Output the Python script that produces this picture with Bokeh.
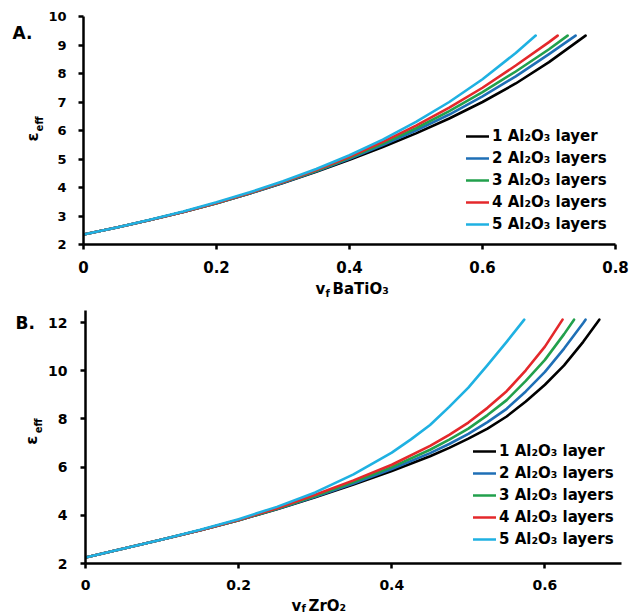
import math
from bokeh.plotting import figure
from bokeh.models import Range1d, FixedTicker, Legend, LegendItem
from bokeh.core.properties import value
from bokeh.layouts import column, row
from bokeh.embed import file_html
from bokeh.resources import INLINE

# ---------------- data ----------------
series_labels = ["1 Al\u2082O\u2083 layer", "2 Al\u2082O\u2083 layers", "3 Al\u2082O\u2083 layers",
                 "4 Al\u2082O\u2083 layers", "5 Al\u2082O\u2083 layers"]
series_colors = ["#000000", "#1f6fb6", "#22a04c", "#e4282b", "#1fb1e2"]

# Panel A: BaTiO3 (v_f grid shared, each curve ends at its own last point)
vf_A = [0.00, 0.05, 0.10, 0.15, 0.20, 0.25, 0.30, 0.35, 0.40, 0.45, 0.50, 0.55, 0.60, 0.65, 0.70]
A_1 = [2.35, 2.60, 2.86, 3.14, 3.45, 3.79, 4.16, 4.55, 4.97, 5.42, 5.90, 6.42, 7.00, 7.65, 8.40]
A_2 = [2.35, 2.60, 2.86, 3.14, 3.45, 3.79, 4.17, 4.57, 5.01, 5.49, 6.00, 6.56, 7.20, 7.90, 8.68]
A_3 = [2.35, 2.60, 2.86, 3.14, 3.45, 3.80, 4.18, 4.59, 5.04, 5.54, 6.08, 6.68, 7.35, 8.07, 8.85]
A_4 = [2.35, 2.60, 2.86, 3.14, 3.46, 3.81, 4.19, 4.61, 5.08, 5.60, 6.17, 6.80, 7.50, 8.28, 9.10]
A_5 = [2.35, 2.60, 2.87, 3.16, 3.48, 3.83, 4.22, 4.65, 5.13, 5.68, 6.30, 7.00, 7.80, 8.72]
A_end_vf = [0.755, 0.740, 0.728, 0.713, 0.680]
A_end_eps = [9.33, 9.33, 9.33, 9.33, 9.33]
A_xticks = [0, 0.2, 0.4, 0.6, 0.8]
A_xtick_labels = ["0", "0.2", "0.4", "0.6", "0.8"]
A_yticks = [2, 3, 4, 5, 6, 7, 8, 9, 10]

# Panel B: ZrO2 (v_f grid finer at high loading)
vf_B = [0.00, 0.05, 0.10, 0.15, 0.20, 0.25, 0.30, 0.35, 0.40, 0.45, 0.475, 0.50, 0.525,
        0.55, 0.575, 0.60, 0.625, 0.65]
vf_B5 = [0.00, 0.05, 0.10, 0.15, 0.20, 0.25, 0.30, 0.35, 0.40, 0.425, 0.45, 0.475, 0.50,
         0.525, 0.55]
B_1 = [2.25, 2.62, 3.00, 3.38, 3.80, 4.25, 4.75, 5.28, 5.84, 6.45, 6.80, 7.18, 7.60,
       8.10, 8.72, 9.42, 10.22, 11.20]
B_2 = [2.25, 2.62, 3.00, 3.38, 3.80, 4.26, 4.77, 5.32, 5.92, 6.58, 6.96, 7.38, 7.87,
       8.42, 9.14, 9.95, 10.92, 11.98]
B_3 = [2.25, 2.62, 3.00, 3.38, 3.80, 4.27, 4.80, 5.38, 6.00, 6.72, 7.14, 7.60, 8.16,
       8.78, 9.58, 10.45, 11.52]
B_4 = [2.25, 2.62, 3.00, 3.38, 3.81, 4.29, 4.85, 5.45, 6.10, 6.88, 7.34, 7.85, 8.46,
       9.15, 10.02, 11.00]
B_5 = [2.25, 2.62, 3.00, 3.40, 3.84, 4.35, 4.95, 5.70, 6.60, 7.15, 7.75, 8.50, 9.30,
       10.23, 11.20]
B_end_vf = [0.671, 0.653, 0.638, 0.623, 0.573]
B_end_eps = [12.12, 12.12, 12.12, 12.12, 12.12]
B_xticks = [0, 0.2, 0.4, 0.6]
B_xtick_labels = ["0", "0.2", "0.4", "0.6"]
B_yticks = [2, 4, 6, 8, 10, 12]

FONT = "DejaVu Sans"
W = 630


def make_panel(width, height, borders, xr, yr, xticks, xlabels, yticks,
               grids, series, ends_x, ends_y, xsize, ysize, ystand, xstand,
               legend_loc):
    left, right, top, bottom = borders
    p = figure(width=width, height=height, output_backend="svg", toolbar_location=None,
               title_location=None,
               x_range=Range1d(*xr), y_range=Range1d(*yr),
               min_border_left=left, min_border_right=right,
               min_border_top=top, min_border_bottom=bottom)
    p.outline_line_color = None
    p.xgrid.visible = False
    p.ygrid.visible = False
    p.background_fill_color = "white"
    for ax in (p.xaxis, p.yaxis):
        ax.axis_line_width = 2.5
        ax.axis_line_color = "black"
        ax.major_tick_line_width = 2.5
        ax.major_tick_line_color = "black"
        ax.major_tick_out = 5
        ax.major_tick_in = 0
        ax.minor_tick_line_color = None
        ax.major_label_text_font = FONT
        ax.major_label_text_font_style = "bold"
        ax.major_label_text_color = "black"
    p.xaxis.ticker = FixedTicker(ticks=xticks)
    p.xaxis.major_label_overrides = dict(zip(xticks, xlabels))
    p.xaxis.major_label_text_font_size = f"{xsize}px"
    p.xaxis.major_label_standoff = xstand
    p.yaxis.ticker = FixedTicker(ticks=yticks)
    p.yaxis.major_label_text_font_size = f"{ysize}px"
    p.yaxis.major_label_standoff = ystand

    items = []
    for grid, vals, ex, ey, col, lab in zip(grids, series, ends_x, ends_y,
                                             series_colors, series_labels):
        xs = list(grid[:len(vals)]) + [ex]
        ys = list(vals) + [ey]
        r = p.line(xs, ys, line_color=col, line_width=2.6, line_join="round", line_cap="round")
        items.append(LegendItem(label=lab, renderers=[r]))
    leg = Legend(items=items, location=legend_loc, orientation="vertical",
                 border_line_color=None, background_fill_alpha=0, padding=0, margin=0,
                 spacing=2, glyph_width=23, glyph_height=20, label_height=20,
                 label_standoff=3, label_text_font=FONT, label_text_font_style="bold",
                 label_text_font_size="15px", label_text_color="black")
    p.add_layout(leg)
    return p


def text_strip(x0, x1, y0, y1):
    """A bare figure whose data units are page pixels (x0..x1 across, y0..y1 down)."""
    f = figure(width=x1 - x0, height=y1 - y0, output_backend="svg", toolbar_location=None,
               title_location=None,
               x_range=Range1d(x0, x1), y_range=Range1d(y1, y0),
               min_border=0, min_border_left=0, min_border_right=0,
               min_border_top=0, min_border_bottom=0)
    f.axis.visible = False
    f.xgrid.visible = False
    f.ygrid.visible = False
    f.outline_line_color = None
    return f


def put(f, px, py, txt, size, angle=0.0, align="left"):
    f.text(x=[px], y=[py], text=[txt], angle=angle, text_align=align,
           text_baseline="middle", text_font=value(FONT), text_font_style="bold",
           text_font_size=value(f"{size}px"), text_color="black")


# ---- panel A (page y 0..278) ----
LA = 45
pA = make_panel(W - LA, 278, (82 - LA, 15, 16, 34), (0, 0.8), (2, 10), A_xticks, A_xtick_labels,
                A_yticks, [vf_A] * 5, [A_1, A_2, A_3, A_4, A_5], A_end_vf, A_end_eps,
                15, 13, 12, 11, (383, 10))
lblA = text_strip(0, LA, 0, 278)
put(lblA, 12, 20, "A.", 17)
put(lblA, 32, 147, "\u03b5", 16, math.pi / 2, "center")
put(lblA, 39, 131, "eff", 10, math.pi / 2, "center")

xtA = text_strip(0, W, 278, 300)
put(xtA, 315, 288, "v", 15)
put(xtA, 325, 293, "f", 10)
put(xtA, 332, 288, "BaTiO\u2083", 15)

# ---- panel B (page y 300..596) ----
LB = 45
pB = make_panel(W - LB, 296, (85 - LB, 9, 10, 33), (0, 0.7), (2, 12.5), B_xticks, B_xtick_labels,
                B_yticks, [vf_B, vf_B, vf_B, vf_B, vf_B5], [B_1, B_2, B_3, B_4, B_5],
                B_end_vf, B_end_eps, 14, 14, 13, 11, (388, 14))
lblB = text_strip(0, LB, 300, 596)
put(lblB, 15, 315, "B.", 17)
put(lblB, 31, 452, "\u03b5", 16, math.pi / 2, "center")
put(lblB, 38, 435, "eff", 10, math.pi / 2, "center")

xtB = text_strip(0, W, 596, 614)
put(xtB, 291, 605, "v", 15)
put(xtB, 301, 607.5, "f", 10)
put(xtB, 308, 605, "ZrO\u2082", 15)

layout = column(row(lblA, pA), xtA, row(lblB, pB), xtB)
open("out.html", "w").write(file_html(layout, INLINE))
